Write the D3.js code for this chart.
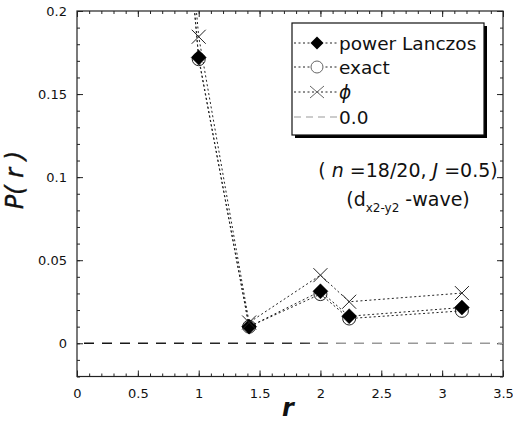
<!DOCTYPE html>
<html>
<head>
<meta charset="utf-8">
<script src="https://cdn.jsdelivr.net/npm/d3@7"></script>
<style>
  html, body { margin: 0; padding: 0; background: #fff; }
  svg { display: block; font-family: "DejaVu Sans", sans-serif; }
</style>
</head>
<body>
<svg id="chart" width="513" height="425"></svg>
<script>
// Pair correlation P(r) versus distance r
const distances = [0, 1, Math.SQRT2, 2, Math.sqrt(5), Math.sqrt(10)];
const powerLanczos = [1.0, 0.172, 0.0100, 0.0313, 0.0163, 0.0215];
const exactValues  = [1.0, 0.171, 0.0100, 0.0296, 0.0149, 0.0195];
const phiValues    = [1.0, 0.1845, 0.0125, 0.0410, 0.0250, 0.0302];
const xTicks = [0, 0.5, 1, 1.5, 2, 2.5, 3, 3.5];
const xTickLabels = ["0", "0.5", "1", "1.5", "2", "2.5", "3", "3.5"];
const yTicks = [0, 0.05, 0.1, 0.15, 0.2];
const yTickLabels = ["0", "0.05", "0.1", "0.15", "0.2"];
const legendLabels = ["power Lanczos", "exact", "\u03D5", "0.0"];

const svg = d3.select("#chart");
const plotLeft = 77, plotRight = 503, plotTop = 11, plotBottom = 376.5;

const x = d3.scaleLinear().domain([0, 3.5]).range([plotLeft, plotRight]);
const y = d3.scaleLinear().domain([-0.02, 0.2]).range([plotBottom, plotTop]);

const xMinor = d3.range(0, 3.5001, 0.1);
const yMinor = d3.range(-0.02, 0.2001, 0.01);

// Frame
svg.append("rect")
  .attr("x", plotLeft).attr("y", plotTop)
  .attr("width", plotRight - plotLeft).attr("height", plotBottom - plotTop)
  .attr("fill", "none").attr("stroke", "#222").attr("stroke-width", 1.2);

function styleAxis(g) {
  g.select(".domain").remove();
  g.selectAll(".tick line").attr("stroke", "#222").attr("stroke-width", 1);
}

// Minor ticks on all four sides
svg.append("g").attr("transform", `translate(0,${plotBottom})`)
  .call(d3.axisBottom(x).tickValues(xMinor).tickSize(-3).tickFormat(""))
  .call(styleAxis);
svg.append("g").attr("transform", `translate(0,${plotTop})`)
  .call(d3.axisTop(x).tickValues(xMinor).tickSize(-3).tickFormat(""))
  .call(styleAxis);
svg.append("g").attr("transform", `translate(${plotLeft},0)`)
  .call(d3.axisLeft(y).tickValues(yMinor).tickSize(-3).tickFormat(""))
  .call(styleAxis);
svg.append("g").attr("transform", `translate(${plotRight},0)`)
  .call(d3.axisRight(y).tickValues(yMinor).tickSize(-3).tickFormat(""))
  .call(styleAxis);

// Major ticks with labels
const xAxis = svg.append("g").attr("transform", `translate(0,${plotBottom})`)
  .call(d3.axisBottom(x).tickValues(xTicks).tickSize(-6).tickPadding(12)
    .tickFormat((d, i) => xTickLabels[i]))
  .call(styleAxis);
xAxis.selectAll("text").attr("font-size", 13).attr("fill", "#111")
  .attr("font-family", "DejaVu Sans, sans-serif");

const yAxis = svg.append("g").attr("transform", `translate(${plotLeft},0)`)
  .call(d3.axisLeft(y).tickValues(yTicks).tickSize(-6).tickPadding(10)
    .tickFormat((d, i) => yTickLabels[i]))
  .call(styleAxis);
yAxis.selectAll("text").attr("font-size", 13).attr("fill", "#111")
  .attr("font-family", "DejaVu Sans, sans-serif");

svg.append("g").attr("transform", `translate(0,${plotTop})`)
  .call(d3.axisTop(x).tickValues(xTicks).tickSize(-6).tickFormat(""))
  .call(styleAxis);
svg.append("g").attr("transform", `translate(${plotRight},0)`)
  .call(d3.axisRight(y).tickValues(yTicks).tickSize(-6).tickFormat(""))
  .call(styleAxis);

// Axis titles
svg.append("text")
  .attr("transform", `translate(23,180) rotate(-90)`)
  .attr("text-anchor", "middle")
  .attr("font-size", 24).attr("font-style", "italic")
  .attr("fill", "#111").attr("stroke", "#111").attr("stroke-width", 0.4)
  .text("P( r )");
svg.append("text")
  .attr("x", x(1.75) - 2).attr("y", 416)
  .attr("text-anchor", "middle")
  .attr("font-size", 24).attr("font-style", "italic").attr("font-weight", "bold")
  .attr("fill", "#111")
  .text("r");

// Clip region for data
svg.append("clipPath").attr("id", "plot-clip")
  .append("rect").attr("x", plotLeft).attr("y", plotTop)
  .attr("width", plotRight - plotLeft).attr("height", plotBottom - plotTop);

const plot = svg.append("g").attr("clip-path", "url(#plot-clip)");

// Zero reference line (dashed, fading toward the right)
const grad = svg.append("defs").append("linearGradient")
  .attr("id", "zero-grad").attr("gradientUnits", "userSpaceOnUse")
  .attr("x1", plotLeft).attr("x2", plotRight).attr("y1", 0).attr("y2", 0);
grad.append("stop").attr("offset", "0%").attr("stop-color", "#111");
grad.append("stop").attr("offset", "52%").attr("stop-color", "#333");
grad.append("stop").attr("offset", "62%").attr("stop-color", "#999");
grad.append("stop").attr("offset", "100%").attr("stop-color", "#999");

plot.append("line")
  .attr("x1", plotLeft + 7).attr("x2", plotRight)
  .attr("y1", y(0)).attr("y2", y(0))
  .attr("stroke", "url(#zero-grad)").attr("stroke-width", 1.5)
  .attr("stroke-dasharray", "10,8");

const series = [
  { name: legendLabels[0], values: powerLanczos, marker: "diamond" },
  { name: legendLabels[1], values: exactValues, marker: "circle" },
  { name: legendLabels[2], values: phiValues, marker: "cross" }
];

const line = d3.line().x(d => x(d[0])).y(d => y(d[1]));

series.forEach(s => {
  const pts = distances.map((r, i) => [r, s.values[i]]);
  plot.append("path")
    .attr("d", line(pts))
    .attr("fill", "none").attr("stroke", "#222")
    .attr("stroke-width", 1).attr("stroke-dasharray", "2,2.5");
});

// Square diamond (equal width and height)
function diamondPath(cx, cy, h) {
  return `M${cx},${cy - h}L${cx + h},${cy}L${cx},${cy + h}L${cx - h},${cy}Z`;
}

function drawMarker(g, type, cx, cy) {
  if (type === "diamond") {
    g.append("path")
      .attr("d", diamondPath(cx, cy, 7.5))
      .attr("fill", "#000").attr("stroke", "#000").attr("stroke-width", 0.5);
  } else if (type === "circle") {
    g.append("circle")
      .attr("cx", cx).attr("cy", cy).attr("r", 6.5)
      .attr("fill", "none").attr("stroke", "#222").attr("stroke-width", 1);
  } else {
    const a = 7;
    g.append("path")
      .attr("d", `M${cx - a},${cy - a}L${cx + a},${cy + a}M${cx - a},${cy + a}L${cx + a},${cy - a}`)
      .attr("stroke", "#222").attr("stroke-width", 1).attr("fill", "none");
  }
}

// Markers: circles first, then diamonds, then crosses
[series[1], series[0], series[2]].forEach(s => {
  distances.forEach((r, i) => {
    if (s.values[i] <= 0.2) drawMarker(plot, s.marker, x(r), y(s.values[i]));
  });
});

// Legend
const lg = svg.append("g");
const lx = 292, ly = 23, lw = 192, lh = 112;
lg.append("rect").attr("x", lx + 3).attr("y", ly + 3).attr("width", lw).attr("height", lh)
  .attr("fill", "#000");
lg.append("rect").attr("x", lx).attr("y", ly).attr("width", lw).attr("height", lh)
  .attr("fill", "#fff").attr("stroke", "#111").attr("stroke-width", 1.2);

const rowY = [43, 67, 92, 117];
const legendItems = [
  { label: legendLabels[0], marker: "diamond", dash: "2,2.5", color: "#222" },
  { label: legendLabels[1], marker: "circle", dash: "2,2.5", color: "#222" },
  { label: legendLabels[2], marker: "cross", dash: "2,2.5", color: "#222" },
  { label: legendLabels[3], marker: null, dash: "7,5", color: "#999" }
];
legendItems.forEach((it, i) => {
  const yy = rowY[i];
  lg.append("line").attr("x1", lx + 2).attr("x2", lx + 45)
    .attr("y1", yy).attr("y2", yy)
    .attr("stroke", it.color).attr("stroke-width", 1)
    .attr("stroke-dasharray", it.dash);
  if (it.marker) {
    const cx = lx + 25;
    if (it.marker === "diamond") {
      lg.append("path").attr("d", diamondPath(cx, yy, 6.5)).attr("fill", "#000");
    } else if (it.marker === "circle") {
      lg.append("circle").attr("cx", cx).attr("cy", yy).attr("r", 6)
        .attr("fill", "#fff").attr("stroke", "#666").attr("stroke-width", 1);
    } else {
      const a = 7;
      lg.append("path")
        .attr("d", `M${cx - a},${yy - 6}L${cx + a},${yy + 6}M${cx - a},${yy + 6}L${cx + a},${yy - 6}`)
        .attr("stroke", "#666").attr("stroke-width", 1);
    }
  }
  const t = lg.append("text").attr("x", lx + 47).attr("y", yy + 6.5)
    .attr("font-size", 18.5).attr("fill", "#111");
  if (i === 2) t.attr("font-style", "italic");
  t.text(it.label);
});

// Parameter annotation
const ann1 = svg.append("text").attr("x", 408).attr("y", 177)
  .attr("text-anchor", "middle").attr("font-size", 19).attr("fill", "#111");
ann1.append("tspan").text("( ");
ann1.append("tspan").attr("font-style", "italic").text("n");
ann1.append("tspan").text(" =18/20, ");
ann1.append("tspan").attr("font-style", "italic").text("J");
ann1.append("tspan").text(" =0.5)");

const ann2 = svg.append("text").attr("x", 408).attr("y", 206)
  .attr("text-anchor", "middle").attr("font-size", 19).attr("fill", "#111");
ann2.append("tspan").text("(d");
ann2.append("tspan").attr("font-size", 12).attr("dy", 6).text("x2-y2");
ann2.append("tspan").attr("dy", -6).text("  -wave)");
</script>
</body>
</html>
